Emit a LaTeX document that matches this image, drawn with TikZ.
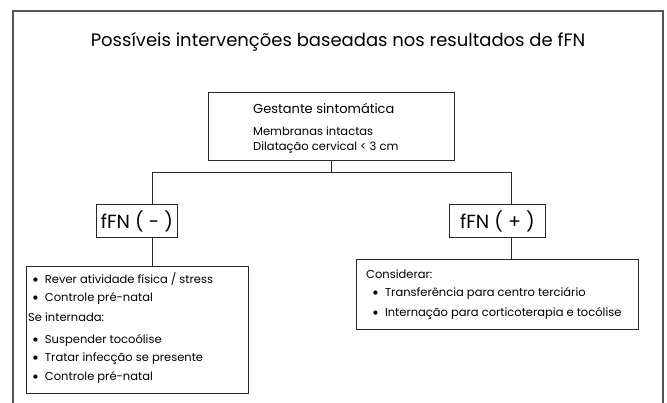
\documentclass[tikz,border=0pt]{standalone}
\usepackage{fontspec}
\setmainfont{Poppins}
\newfontfamily\bulfont{DejaVu Sans}
\usepackage{tikz}
\usetikzlibrary{positioning}
\definecolor{framegray}{RGB}{85,85,85}
\definecolor{linegray}{RGB}{40,40,40}
\newcommand{\blt}{\raisebox{2.2pt}{\bulfont\fontsize{5.5}{6}\selectfont ●}\hspace{7pt}}

\begin{document}
\begin{tikzpicture}[x=1pt,y=-1pt,
  box/.style={draw=linegray,line width=0.9pt,anchor=north west,inner sep=0pt},
  txt/.style={anchor=base west,inner sep=0pt,font=\fontsize{11.5}{13}\selectfont},
  bul/.style={anchor=base west,inner sep=0pt,font=\fontsize{11.5}{13}\selectfont},
  conn/.style={draw=linegray,line width=0.9pt}]
\useasboundingbox (0,0) rectangle (667,403);
% outer frame, open at the bottom
\draw[framegray,line width=1.6pt] (13,403) -- (13,11) -- (663,11) -- (663,403);
\node[anchor=base,inner sep=0pt,font=\fontsize{18}{21}\selectfont] (title) at (338,47) {Possíveis intervenções baseadas nos resultados de fFN};

% main box
\node[box,minimum width=246pt,minimum height=68pt] (main) at (208,92) {};
\node[txt,font=\fontsize{13}{15}\selectfont] (gest) at (253,114) {Gestante sintomática};
\node[txt] (memb) at (253,136) {Membranas intactas};
\node[txt] (dila) at (253,151) {Dilatação cervical < 3 cm};

% result boxes
\node[box,minimum width=81pt,minimum height=33pt] (neg) at (96,204) {};
\node[anchor=center,inner sep=0pt,font=\fontsize{19}{22}\selectfont] (negt) at (neg.center) {fFN ( - )};
\node[box,minimum width=96pt,minimum height=33pt] (pos) at (449,204) {};
\node[anchor=center,inner sep=0pt,font=\fontsize{19}{22}\selectfont] (post) at (pos.center) {fFN ( + )};

% left list
\node[box,minimum width=222pt,minimum height=127pt] (negbox) at (26,266) {};
\node[bul] (n1) at (33,284) {\blt Rever atividade física / stress};
\node[bul] (n2) at (33,302) {\blt Controle pré-natal};
\node[txt] (n3) at (28,322) {Se internada:};
\node[bul] (n4) at (33,344) {\blt Suspender tocoólise};
\node[bul] (n5) at (33,362) {\blt Tratar infecção se presente};
\node[bul] (n6) at (33,381) {\blt Controle pré-natal};

% right list
\node[box,minimum width=282pt,minimum height=70pt] (posbox) at (356,259) {};
\node[txt] (p1) at (366,279) {Considerar:};
\node[bul] (p2) at (373,297) {\blt Transferência para centro terciário};
\node[bul] (p3) at (373,317) {\blt Internação para corticoterapia e tocólise};

% connectors
\coordinate (bl) at (152,172);
\coordinate (br) at (511,172);
\draw[conn] (main.south) -- (main.south |- bl);
\draw[conn] (bl) -- (br);
\draw[conn] (bl) -- (bl |- neg.north);
\draw[conn] (br) -- (br |- pos.north);
\draw[conn] (bl |- neg.south) -- (bl |- negbox.north);
\draw[conn] (br |- pos.south) -- (br |- posbox.north);
\end{tikzpicture}
\end{document}
